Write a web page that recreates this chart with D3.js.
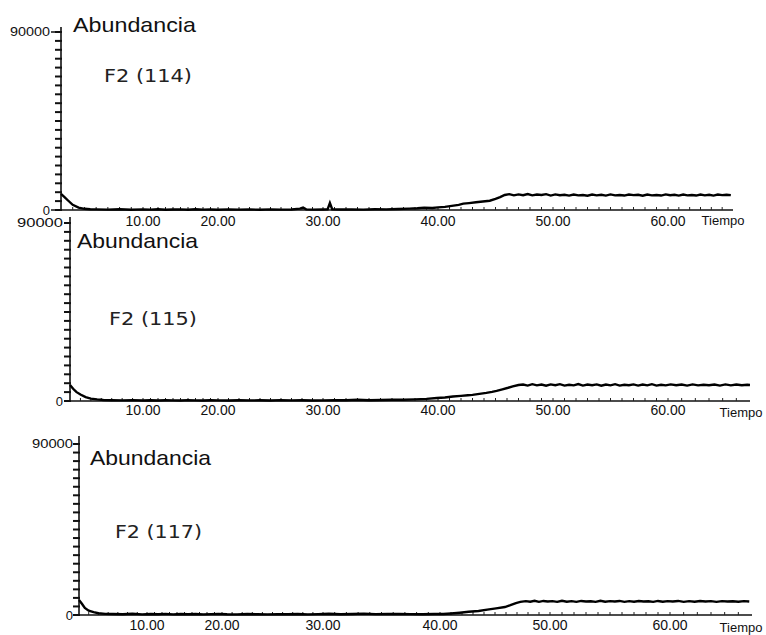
<!DOCTYPE html>
<html><head><meta charset="utf-8">
<script src="https://cdn.jsdelivr.net/npm/d3@7"></script>
<style>html,body{margin:0;padding:0;background:#fff;}</style>
</head><body>
<svg id="c" width="766" height="635"></svg>
<script>
// ---------- data ----------
const xTickValues = [10, 20, 30, 40, 50, 60];
const xTickLabels = ["10.00", "20.00", "30.00", "40.00", "50.00", "60.00"];
const yMax = 90000;
const yMinorStep = 4500;
const panelTitles = ["F2 (114)", "F2 (115)", "F2 (117)"];

const time1 = [3.0,3.3,3.6,4.0,4.5,5.0,5.5,6,7,8,9,10,11,12,13,14,15,16,17,18,19,20,21,22,23,24,25,26,27,27.8,28.1,28.4,29,30,30.4,30.6,30.8,31.5,32.5,33.5,34.5,35.5,36.5,37.5,38.2,38.8,39.5,40,40.6,41.2,41.8,42.2,42.7,43.3,43.9,44.5,45.0,45.4,
  45.8,46.2,46.6,47,47.4,47.8,48.2,48.6,49,49.4,49.8,50.2,50.6,51,51.4,51.8,52.2,52.6,53,53.4,53.8,54.2,54.6,55,55.4,55.8,56.2,56.6,57,57.4,57.8,58.2,58.6,59,59.4,59.8,60.2,60.6,61,61.4,61.8,62.2,62.6,63,63.4,63.8,64.2,64.6,65,65.4,65.8];
const abund1 = [8100,6500,4800,2600,1200,600,400,300,200,350,150,300,200,400,150,250,300,150,350,200,250,150,300,200,250,150,300,200,250,700,1200,300,200,250,300,3500,400,250,300,200,350,300,500,700,900,1200,1000,1300,1600,2100,2600,3200,3500,3900,4300,4700,5600,6500,
  7600,8000,7400,7900,7500,8100,7400,7800,7600,8000,7300,7900,7500,7700,7300,7800,7400,7600,7200,7800,7400,7700,7300,7900,7400,7600,7300,7800,7500,7700,7200,7800,7400,7600,7300,7900,7500,7700,7300,7800,7400,7600,7300,7800,7400,7700,7300,7800,7500,7700,7500];

const time2 = [3.0,3.3,3.6,4.0,4.5,5.0,5.6,6.2,7,8,9,10,11,12,13,14,15,16,17,18,19,20,21,22,23,24,25,26,27,28,29,30,31,32,33,34,35,36,37,38,39,39.9,40.6,41.3,42,42.6,43,43.6,44.2,44.7,45.1,45.6,46.1,46.5,47,
  47.4,47.8,48.2,48.6,49,49.4,49.8,50.2,50.6,51,51.4,51.8,52.2,52.6,53,53.4,53.8,54.2,54.6,55,55.4,55.8,56.2,56.6,57,57.4,57.8,58.2,58.6,59,59.4,59.8,60.2,60.6,61,61.4,61.8,62.2,62.6,63,63.4,63.8,64.2,64.6,65,65.4,65.8,66];
const abund2 = [8100,6200,4600,3300,2000,1200,800,500,400,300,450,250,350,250,400,300,250,450,300,250,350,300,250,400,300,350,250,450,300,350,250,300,450,350,600,400,500,650,600,800,1100,1500,1800,2300,2600,2900,3100,3600,4100,4600,5100,5900,6700,7400,8100,
  8300,7800,8500,7900,8300,7700,8400,8000,8500,7800,8200,7900,8600,7800,8300,8000,8400,7700,8300,7900,8500,7800,8200,8000,8400,7800,8300,7900,8500,7800,8200,7900,8400,8000,8300,7800,8400,7900,8200,8000,8300,7800,8400,7900,8300,8000,8200,8100];

const time3 = [3.0,3.3,3.6,4.0,4.5,5.0,5.7,6.5,7.5,8.5,9.5,10.5,11.5,12.5,13.5,14.5,15.5,16.5,17.5,18.5,19.5,20.5,21.5,22.5,23.5,24.5,25.5,26.5,27.5,28.5,29.5,30.5,31.5,32.5,33.5,34.5,35.5,36.5,37.5,38.5,39.5,40.3,41,41.8,42.6,43.5,44.3,45.1,45.9,46.4,46.9,47.3,
  47.8,48.2,48.6,49,49.4,49.8,50.2,50.6,51,51.4,51.8,52.2,52.6,53,53.4,53.8,54.2,54.6,55,55.4,55.8,56.2,56.6,57,57.4,57.8,58.2,58.6,59,59.4,59.8,60.2,60.6,61,61.4,61.8,62.2,62.6,63,63.4,63.8,64.2,64.6,65,65.4,65.8];
const abund3 = [7900,5900,3700,2300,1500,900,600,500,400,650,350,500,400,600,350,500,400,550,350,450,600,400,350,500,400,350,450,400,500,350,450,650,400,550,700,450,600,500,450,400,500,500,800,1200,1700,2100,2800,3500,4200,5200,6300,6900,
  7300,7000,7500,6900,7400,7100,7300,6900,7500,7000,7300,6900,7400,7100,7200,6900,7500,7000,7300,7100,7400,6900,7300,7000,7400,7100,7200,6900,7400,7000,7300,7100,7400,6900,7300,7000,7400,7100,7300,6900,7300,7100,7200,7000,7300,7100];

const series = [
  {t: time1, v: abund1},
  {t: time2, v: abund2},
  {t: time3, v: abund3}
];

// ---------- layout ----------
const timeStart = 3, timeEnd = 66;
const layout = [
  {axisX:61, endX:733, y0:210, yTop:32, axisTop:27, tickPx:[143,218,323,438,553,668], labY:226,
   tiempoX:723, tiempoY:225, abX:73, abY:32, abW:123, fX:104, fY:82, fW:88, ylW:40, major:9},
  {axisX:70, endX:750, y0:401, yTop:223, axisTop:217, tickPx:[143,218,323,438,553,668], labY:415,
   tiempoX:741, tiempoY:417, abX:77, abY:248, abW:121, fX:109, fY:325, fW:88, ylW:46, major:5},
  {axisX:79, endX:752, y0:615, yTop:444, axisTop:436, tickPx:[147,222,323,440,550,670], labY:630,
   tiempoX:741, tiempoY:632, abX:90, abY:465, abW:121, fX:115, fY:538, fW:87, ylW:41, major:4}
];

const svg = d3.select("#c");
const SANS = "'Liberation Sans', Arial, sans-serif";

layout.forEach((L, i) => {
  const g = svg.append("g");
  const x = d3.scaleLinear()
    .domain([timeStart, ...xTickValues, timeEnd])
    .range([L.axisX, ...L.tickPx, L.endX]);
  const y = d3.scaleLinear().domain([0, yMax]).range([L.y0, L.yTop]);

  // x axis line
  g.append("line").attr("x1", L.axisX).attr("x2", L.endX)
    .attr("y1", L.y0).attr("y2", L.y0).attr("stroke", "#111").attr("stroke-width", 1.6);
  // x minor ticks (1 min)
  g.selectAll(".xm").data(d3.range(4, 66, 1)).join("line")
    .attr("x1", d => x(d)).attr("x2", d => x(d))
    .attr("y1", L.y0).attr("y2", L.y0 - 3)
    .attr("stroke", "#222").attr("stroke-width", 1);
  // x labels
  g.selectAll(".xl").data(xTickValues).join("text")
    .attr("x", d => x(d)).attr("y", L.labY)
    .attr("text-anchor", "middle").attr("font-family", SANS).attr("font-size", 14)
    .attr("fill", "#111")
    .text((d, k) => xTickLabels[k]);
  g.append("text").attr("x", L.tiempoX).attr("y", L.tiempoY)
    .attr("text-anchor", "middle").attr("font-family", SANS).attr("font-size", 13)
    .attr("fill", "#111").text("Tiempo");

  // y axis line
  g.append("line").attr("x1", L.axisX).attr("x2", L.axisX)
    .attr("y1", L.axisTop).attr("y2", L.y0).attr("stroke", "#111").attr("stroke-width", 1.6);
  // y minor ticks
  g.selectAll(".ym").data(d3.range(0, yMax + 1, yMinorStep)).join("line")
    .attr("x1", L.axisX - 6).attr("x2", L.axisX + 1)
    .attr("y1", d => y(d)).attr("y2", d => y(d))
    .attr("stroke", "#111").attr("stroke-width", 2);
  // y major ticks + labels
  g.selectAll(".yM").data([0, yMax]).join("line")
    .attr("x1", L.axisX - L.major - 1).attr("x2", L.axisX)
    .attr("y1", d => y(d)).attr("y2", d => y(d))
    .attr("stroke", "#111").attr("stroke-width", 1.5);
  g.append("text").attr("x", L.axisX - L.major - 2).attr("y", y(yMax)).attr("dy", "0.36em")
    .attr("text-anchor", "end").attr("font-family", SANS).attr("font-size", 12)
    .attr("textLength", L.ylW).attr("lengthAdjust", "spacingAndGlyphs")
    .attr("fill", "#111").text("90000");
  g.append("text").attr("x", L.axisX - L.major - 2).attr("y", y(0)).attr("dy", "0.36em")
    .attr("text-anchor", "end").attr("font-family", SANS).attr("font-size", 13)
    .attr("fill", "#111").text("0");

  // trace
  const s = series[i];
  const line = d3.line().x(d => x(d[0])).y(d => y(d[1]));
  g.append("path").datum(s.t.map((t, k) => [t, s.v[k]]))
    .attr("d", line).attr("fill", "none").attr("stroke", "#000")
    .attr("stroke-width", 2.4).attr("stroke-linejoin", "miter");

  // titles
  g.append("text").attr("x", L.abX).attr("y", L.abY)
    .attr("font-family", SANS).attr("font-size", 21)
    .attr("textLength", L.abW).attr("lengthAdjust", "spacingAndGlyphs")
    .attr("fill", "#111").text("Abundancia");
  g.append("text").attr("x", L.fX).attr("y", L.fY)
    .attr("font-family", "'DejaVu Sans', Verdana, sans-serif").attr("font-size", 18)
    .attr("textLength", L.fW).attr("lengthAdjust", "spacingAndGlyphs")
    .attr("fill", "#222").text(panelTitles[i]);
});
</script>
</body></html>
